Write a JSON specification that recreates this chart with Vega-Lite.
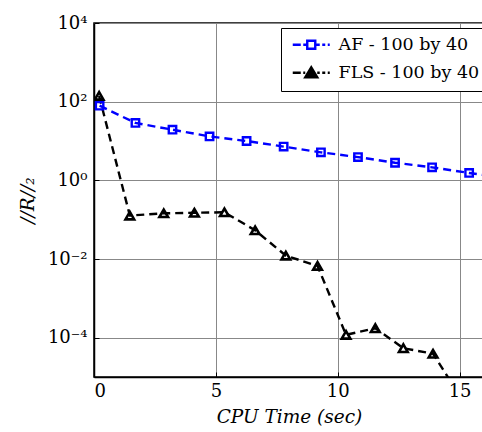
{
  "$schema": "https://vega.github.io/schema/vega-lite/v6.json",
  "width": 390,
  "height": 354,
  "autosize": {"type": "none"},
  "padding": {"left": 94, "top": 23, "right": 0, "bottom": 55},
  "background": "white",
  "config": {
    "font": "DejaVu Serif",
    "view": {"stroke": "black", "strokeWidth": 1.5},
    "axis": {
      "labelFont": "DejaVu Serif",
      "labelFontSize": 18,
      "labelColor": "black",
      "titleFont": "DejaVu Serif",
      "titleFontSize": 18.5,
      "titleFontStyle": "italic",
      "titleFontWeight": "normal",
      "titleColor": "black",
      "domainColor": "black",
      "domainWidth": 1.5,
      "tickColor": "black",
      "tickSize": -5,
      "gridColor": "#888888",
      "gridWidth": 1,
      "gridOpacity": 1
    }
  },
  "data": {
    "values": [
      {"t": 0.23, "r": 79, "series": "AF - 100 by 40"},
      {"t": 1.70, "r": 28.8, "series": "AF - 100 by 40"},
      {"t": 3.22, "r": 19.4, "series": "AF - 100 by 40"},
      {"t": 4.74, "r": 13.1, "series": "AF - 100 by 40"},
      {"t": 6.26, "r": 10.0, "series": "AF - 100 by 40"},
      {"t": 7.78, "r": 7.2, "series": "AF - 100 by 40"},
      {"t": 9.31, "r": 5.15, "series": "AF - 100 by 40"},
      {"t": 10.83, "r": 3.9, "series": "AF - 100 by 40"},
      {"t": 12.35, "r": 2.8, "series": "AF - 100 by 40"},
      {"t": 13.87, "r": 2.14, "series": "AF - 100 by 40"},
      {"t": 15.39, "r": 1.54, "series": "AF - 100 by 40"},
      {"t": 16.91, "r": 1.15, "series": "AF - 100 by 40"},
      {"t": 0.21, "r": 140, "series": "FLS - 100 by 40"},
      {"t": 1.47, "r": 0.127, "series": "FLS - 100 by 40"},
      {"t": 2.86, "r": 0.145, "series": "FLS - 100 by 40"},
      {"t": 4.12, "r": 0.15, "series": "FLS - 100 by 40"},
      {"t": 5.35, "r": 0.154, "series": "FLS - 100 by 40"},
      {"t": 6.61, "r": 0.0537, "series": "FLS - 100 by 40"},
      {"t": 7.87, "r": 0.0122, "series": "FLS - 100 by 40"},
      {"t": 9.17, "r": 0.00667, "series": "FLS - 100 by 40"},
      {"t": 10.34, "r": 0.000118, "series": "FLS - 100 by 40"},
      {"t": 11.54, "r": 0.000174, "series": "FLS - 100 by 40"},
      {"t": 12.69, "r": 0.000054, "series": "FLS - 100 by 40"},
      {"t": 13.91, "r": 0.000039, "series": "FLS - 100 by 40"},
      {"t": 15.1, "r": 0.0000027, "series": "FLS - 100 by 40"}
    ]
  },
  "encoding": {
    "x": {
      "field": "t",
      "type": "quantitative",
      "scale": {"domain": [0, 16], "nice": false, "zero": false},
      "axis": {"values": [0, 5, 10, 15], "title": "CPU Time (sec)", "labelPadding": 10, "titlePadding": 7}
    },
    "y": {
      "field": "r",
      "type": "quantitative",
      "scale": {"type": "log", "domain": [0.00001, 10000], "nice": false},
      "axis": {
        "values": [0.0001, 0.01, 1, 100, 10000],
        "labelExpr": "datum.value >= 1000 ? '10⁴' : datum.value >= 10 ? '10²' : datum.value >= 0.1 ? '10⁰' : datum.value >= 0.001 ? '10⁻²' : '10⁻⁴'",
        "title": "//R//₂",
        "labelPadding": 12,
        "titlePadding": 10
      }
    }
  },
  "layer": [
    {
      "mark": {"type": "line", "clip": true, "strokeWidth": 2.4, "strokeDash": [8, 5]},
      "encoding": {
        "color": {
          "field": "series",
          "type": "nominal",
          "scale": {"domain": ["AF - 100 by 40", "FLS - 100 by 40"], "range": ["#0000ff", "#000000"]},
          "legend": {
            "orient": "none",
            "legendX": 187,
            "legendY": 5,
            "title": null,
            "fillColor": "white",
            "strokeColor": "black",
            "padding": 8,
            "labelFont": "DejaVu Serif",
            "labelFontSize": 17.5,
            "labelColor": "black",
            "labelOffset": 32,
            "symbolSize": 100,
            "rowPadding": 8,
            "encode": {
              "symbols": {
                "update": {
                  "shape": {"signal": "datum.value === 'AF - 100 by 40' ? 'M-1,0H0.6M1.1,0H1.9M1.9,-0.8H3.5V0.8H1.9ZM3.5,0H4.4M4.9,0H5.5M6.0,0H6.4' : 'M-1,0H0.6M1.1,0H1.5M1.5,0.9L2.7,-1.1L3.9,0.9ZM3.9,0H4.4M4.9,0H5.5M6.0,0H6.4'"},
                  "strokeDash": {"value": []},
                  "strokeWidth": {"value": 2.4},
                  "fill": {"signal": "datum.value === 'AF - 100 by 40' ? 'white' : 'black'"},
                  "fillOpacity": {"value": 1},
                  "opacity": {"value": 1}
                }
              }
            }
          }
        }
      }
    },
    {
      "transform": [{"filter": "datum.series === 'AF - 100 by 40'"}],
      "mark": {"type": "point", "clip": true, "filled": false, "shape": "square", "color": "#0000ff", "strokeWidth": 2.4, "size": 55, "opacity": 1}
    },
    {
      "transform": [{"filter": "datum.series === 'FLS - 100 by 40'"}],
      "mark": {"type": "point", "clip": true, "filled": false, "shape": "triangle-up", "color": "#000000", "strokeWidth": 2.6, "size": 75, "opacity": 1}
    }
  ]
}
